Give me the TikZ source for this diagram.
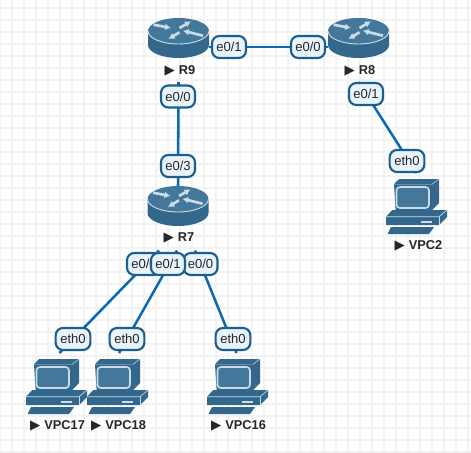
\documentclass[tikz,border=0pt]{standalone}
\usepackage{fontspec}
\usetikzlibrary{arrows.meta}
\setmainfont{Liberation Sans}
\newfontfamily\symfont{DejaVu Sans}
\definecolor{iconside}{HTML}{33688C}
\definecolor{icontop}{HTML}{44789B}
\definecolor{iconrim}{HTML}{C9DCE8}
\definecolor{linkblue}{HTML}{0F69AF}
\definecolor{portedge}{HTML}{1D5F8C}
\definecolor{portfill}{HTML}{E9F3FB}
\definecolor{gridgray}{HTML}{F2F2F2}
\definecolor{textgray}{HTML}{262626}
\newcommand{\devname}[1]{{\symfont\fontsize{10}{10}\selectfont ▶}\hspace{3pt}\textbf{#1}}
\tikzset{
 link/.style={draw=linkblue, line width=1.9pt},
 port/.style={draw=portedge, fill=portfill, line width=1.6pt, rounded corners=5.5pt, minimum width=25.5pt, minimum height=16.5pt, inner sep=0pt, text=textgray, font=\fontsize{9.8}{10}\selectfont},
 routerbox/.style={minimum width=45.75pt, minimum height=48pt, inner sep=0pt, outer sep=0pt},
 pcbox/.style={minimum width=45.75pt, minimum height=47.25pt, inner sep=0pt, outer sep=0pt},
 tag/.style={inner sep=0pt, text=textgray, font=\fontsize{9.6}{10}\selectfont},
 router/.pic={
  \fill[iconside] (0,13) -- (0,27) arc[start angle=180, end angle=0, x radius=30.5, y radius=13] -- (61,13) -- cycle;
  \fill[icontop] (30.5,13) ellipse[x radius=30.5, y radius=13];
  \draw[iconrim, line width=0.7pt] (0,13) arc[start angle=180, end angle=0, x radius=30.5, y radius=13];
  \draw[iconrim, line width=2pt, ->] (5.5,6.7) -- (23,10);
  \draw[iconrim, line width=2pt, ->] (31.5,10) -- (43,3.3);
  \draw[iconrim, line width=2pt, ->] (55,17.7) -- (34.8,12.7);
  \draw[iconrim, line width=2pt, ->] (31.5,14.3) -- (20.5,21);
 },
 pc/.pic={
  \fill[iconside] (13,1) -- (53,1) -- (53,25) -- (46,32) -- (46,6.3) -- (8,6.3) -- cycle;
  \draw[iconrim, line width=0.4pt] (8,6.3) -- (46,6.3) -- (53,1);
  \fill[iconside] (8,6.3) -- (46,6.3) -- (46,32) -- (9.7,33) -- cycle;
  \draw[iconrim, line width=1.2pt, rounded corners=2.5pt, fill=icontop] (10.5,9) rectangle (43,30);
  \fill[iconside] (6.3,32) -- (61,32) -- (61,39) -- (53,47) -- (0,47) -- (0,38.7) -- cycle;
  \draw[iconrim, line width=0.5pt] (0,38.7) -- (53,38.7) -- (61,32);
  \draw[iconrim, line width=0.5pt] (53,38.7) -- (53,47);
  \fill[iconrim] (35,43) rectangle (46,45);
  \fill[iconside] (5,49) -- (48,49) -- (43,56) -- (1.5,56) -- cycle;
 }
}
\begin{document}
\begin{tikzpicture}[>={Latex[length=4.5pt, width=5pt]}, x=0.75pt, y=-0.75pt]
 \useasboundingbox (0,0) rectangle (471,453);
 \fill[white] (0,0) rectangle (471,453);
 % grid
 \foreach \gx in {0,12,...,468} \draw[gridgray, line width=1pt] (\gx,0) -- (\gx,453);
 \foreach \gy in {8,20,...,452} \draw[gridgray, line width=1pt] (0,\gy) -- (471,\gy);

 % devices
 \node[routerbox] (R9) at (178.5,50) {};
 \node[routerbox] (R8) at (358.5,50) {};
 \node[routerbox] (R7) at (178,218.5) {};
 \node[pcbox] (VPC17) at (56.5,384.5) {};
 \node[pcbox] (VPC18) at (117.5,384.5) {};
 \node[pcbox] (VPC16) at (237.5,384.5) {};
 \node[pcbox] (VPC2) at (416.5,204.5) {};

 \pic at (148,18) {router};
 \pic at (328,18) {router};
 \pic at (147.5,186) {router};
 \pic at (26,358) {pc};
 \pic at (87,358) {pc};
 \pic at (207,358) {pc};
 \pic at (386,178) {pc};

 \node[tag] (R9tag) at (180,70.5) {\devname{R9}};
 \node[tag] (R8tag) at (360,70.5) {\devname{R8}};
 \node[tag] (R7tag) at (179,238) {\devname{R7}};
 \node[tag] (VPC17tag) at (57.5,426) {\devname{VPC17}};
 \node[tag] (VPC18tag) at (118.5,426) {\devname{VPC18}};
 \node[tag] (VPC16tag) at (238.5,426) {\devname{VPC16}};
 \node[tag] (VPC2tag) at (418.5,246) {\devname{VPC2}};

 % links
 \draw[link] ([yshift=2.25pt]R9.east) -- ([yshift=2.25pt]R8.west);
 \draw[link] (R9.south) -- (R7.north);
 \draw[link] (R8.south) -- (VPC2.north);
 \draw[link] ([xshift=-14.25pt]R7.south) -- ([xshift=2.25pt]VPC17.north);
 \draw[link] ([xshift=-0.75pt]R7.south) -- ([xshift=1.1pt]VPC18.north);
 \draw[link] ([xshift=12.75pt]R7.south) -- ([xshift=-0.75pt]VPC16.north);

 % ports
 \node[port] (R9e01) at (229,47) {e0/1};
 \node[port] (R8e00) at (308,47) {e0/0};
 \node[port] (R9e00) at (178,96.5) {e0/0};
 \node[port] (R7e03) at (178,166) {e0/3};
 \node[port] (R8e01) at (366,94) {e0/1};
 \node[port, minimum width=26pt] (VPC2eth) at (407,161) {eth0};
 \node[port] (R7e00a) at (144,264) {e0/0};
 \node[port] (R7e00b) at (200.5,264) {e0/0};
 \node[port] (R7e01) at (168,264) {e0/1};
 \node[port, minimum width=26pt] (VPC17eth) at (73,339) {eth0};
 \node[port, minimum width=26pt] (VPC18eth) at (127,339) {eth0};
 \node[port, minimum width=26pt] (VPC16eth) at (233,339) {eth0};
\end{tikzpicture}
\end{document}
